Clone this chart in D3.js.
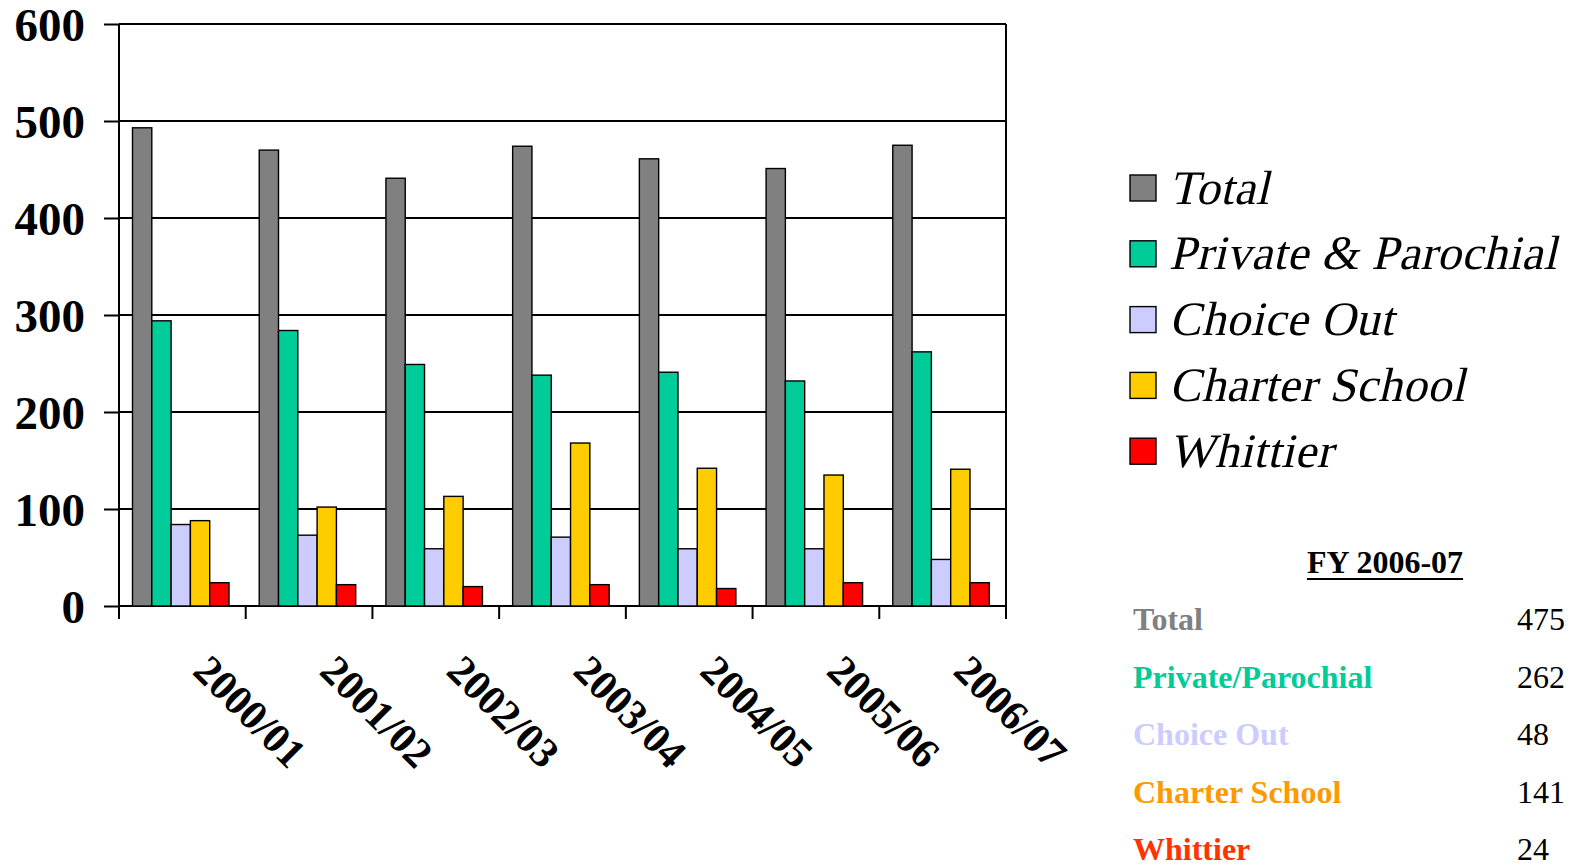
<!DOCTYPE html>
<html>
<head>
<meta charset="utf-8">
<script src="https://cdn.jsdelivr.net/npm/d3@7"></script>
<style>
  body { margin: 0; background: #fff; }
  svg { display: block; font-family: "Liberation Serif", "Times New Roman", serif; }
</style>
</head>
<body>
<div class="chart"></div>
<script>
// school years on the x axis
var years = ['2000/01', '2001/02', '2002/03', '2003/04', '2004/05', '2005/06', '2006/07'];
var seriesNames = ['Total', 'Private & Parochial', 'Choice Out', 'Charter School', 'Whittier'];

// values
var total = [493, 470, 441, 474, 461, 451, 475];
var privateParochial = [294, 284, 249, 238, 241, 232, 262];
var choiceOut = [84, 73, 59, 71, 59, 59, 48];
var charterSchool = [88, 102, 113, 168, 142, 135, 141];
var whittier = [24, 22, 20, 22, 18, 24, 24];

var yTicks = [0, 100, 200, 300, 400, 500, 600];

// FY 2006-07 summary table
var fyTitle = 'FY 2006-07';
var fyLabels = ['Total', 'Private/Parochial', 'Choice Out', 'Charter School', 'Whittier'];
var fyValues = [475, 262, 48, 141, 24];

var barColors = ['#808080', '#00CC99', '#CCCCFF', '#FFCC00', '#FF0000'];
var labelColors = ['#808080', '#00CC99', '#CCCCFF', '#FF9900', '#FF3300'];

var seriesValues = [total, privateParochial, choiceOut, charterSchool, whittier];

var W = 1585, H = 868;
var plot = {left: 119, right: 1006, top: 24, bottom: 606};

var svg = d3.select('.chart')
  .append('svg')
	.attr('width', W)
	.attr('height', H);

var x0 = d3.scaleBand()
	.domain(years)
	.range([plot.left, plot.right]);

var x1 = d3.scaleBand()
	.domain(seriesNames)
	.range([13.5, 110]);

var y = d3.scaleLinear()
	.domain([0, 600])
	.range([plot.bottom, plot.top]);

// gridlines
svg.append('g')
	.selectAll('line')
	.data(yTicks)
	.enter()
	.append('line')
	.attr('x1', plot.left)
	.attr('x2', plot.right)
	.attr('y1', d => y(d))
	.attr('y2', d => y(d))
	.attr('stroke', '#000')
	.attr('stroke-width', 2);

// bars
var groups = svg.append('g')
	.selectAll('g')
	.data(years)
	.enter()
	.append('g')
	.attr('transform', d => `translate(${x0(d)},0)`);

groups.selectAll('rect')
	.data((d, i) => seriesNames.map((s, j) => ({series: s, value: seriesValues[j][i], color: barColors[j]})))
	.enter()
	.append('rect')
	.attr('x', d => x1(d.series))
	.attr('width', x1.bandwidth())
	.attr('y', d => y(d.value))
	.attr('height', d => y(0) - y(d.value))
	.attr('fill', d => d.color)
	.attr('stroke', '#000')
	.attr('stroke-width', 1.4);

// y axis
var yAxis = svg.append('g')
	.attr('transform', `translate(${plot.left},0)`)
	.call(d3.axisLeft(y).tickValues(yTicks).tickSize(15).tickPadding(19));

yAxis.select('.domain').remove();
yAxis.selectAll('line').attr('stroke-width', 2);
yAxis.selectAll('text')
	.attr('font-family', '"Liberation Serif", serif')
	.attr('font-weight', 'bold')
	.attr('font-size', 47)
	.attr('fill', '#000')
	.attr('dy', '0.36em');

// frame: left axis and right border
svg.append('line')
	.attr('x1', plot.left).attr('x2', plot.left)
	.attr('y1', plot.top).attr('y2', plot.bottom + 13)
	.attr('stroke', '#000').attr('stroke-width', 2);
svg.append('line')
	.attr('x1', plot.right).attr('x2', plot.right)
	.attr('y1', plot.top).attr('y2', plot.bottom + 13)
	.attr('stroke', '#000').attr('stroke-width', 2);

// x axis ticks at the band edges
var edges = years.map(d => x0(d)).concat([x0.range()[1]]);
svg.append('g')
	.selectAll('line')
	.data(edges)
	.enter()
	.append('line')
	.attr('x1', d => d).attr('x2', d => d)
	.attr('y1', plot.bottom).attr('y2', plot.bottom + 13)
	.attr('stroke', '#000').attr('stroke-width', 2);

// x labels, rotated
svg.append('g')
	.selectAll('text')
	.data(years)
	.enter()
	.append('text')
	.attr('transform', d => `translate(${x0(d) + x0.bandwidth() / 2 + 9},673) rotate(45)`)
	.attr('font-weight', 'bold')
	.attr('font-size', 42)
	.attr('text-anchor', 'start')
	.text(d => d);

// legend
var legend = svg.append('g')
	.selectAll('g')
	.data(seriesNames)
	.enter()
	.append('g')
	.attr('transform', (d, i) => `translate(1130,${175 + i * 65.8})`);

legend.append('rect')
	.attr('width', 26)
	.attr('height', 26)
	.attr('fill', (d, i) => barColors[i])
	.attr('stroke', '#000')
	.attr('stroke-width', 1.4);

// no serif italic face installed, so slant the regular one
legend.append('text')
	.attr('transform', 'translate(39,28.5) skewX(-13)')
	.attr('font-size', 48)
	.attr('letter-spacing', 0.5)
	.text(d => d);

// summary table
var title = svg.append('text')
	.attr('x', 1385)
	.attr('y', 572.7)
	.attr('text-anchor', 'middle')
	.attr('font-weight', 'bold')
	.attr('font-size', 32)
	.text(fyTitle);

var tb = title.node().getBBox();
svg.append('line')
	.attr('x1', tb.x).attr('x2', tb.x + tb.width)
	.attr('y1', 579).attr('y2', 579)
	.attr('stroke', '#000').attr('stroke-width', 2);

var rows = svg.append('g')
	.selectAll('g')
	.data(fyLabels)
	.enter()
	.append('g')
	.attr('transform', (d, i) => `translate(0,${630 + i * 57.5})`);

rows.append('text')
	.attr('x', 1133)
	.attr('font-weight', 'bold')
	.attr('font-size', 32)
	.attr('fill', (d, i) => labelColors[i])
	.text(d => d);

rows.append('text')
	.attr('x', 1517)
	.attr('font-size', 32)
	.attr('fill', '#000')
	.text((d, i) => fyValues[i]);
</script>
</body>
</html>
